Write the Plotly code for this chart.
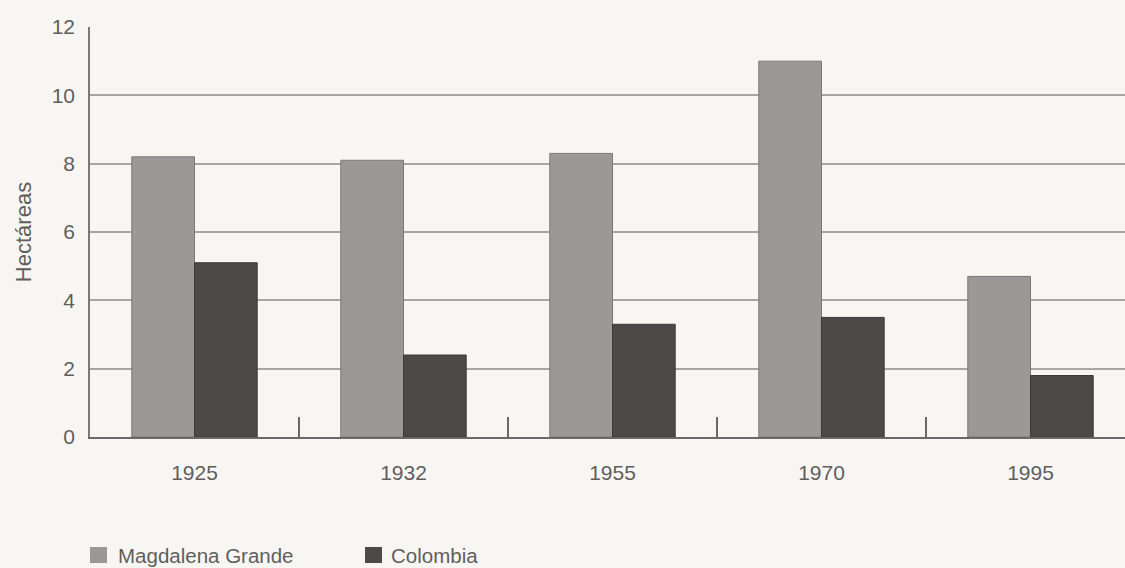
import plotly.graph_objects as go

years = ["1925", "1932", "1955", "1970", "1995"]
magdalena = [8.2, 8.1, 8.3, 11.0, 4.7]
colombia = [5.1, 2.4, 3.3, 3.5, 1.8]
series_names = ["Magdalena Grande", "Colombia"]
y_ticks = [0, 2, 4, 6, 8, 10, 12]
y_title = "Hectáreas"

light = "#9b9998"
dark = "#4c4949"
text_col = "#605e5d"
font_family = "Liberation Sans, Arial, sans-serif"

fig = go.Figure()
fig.add_trace(go.Bar(x=years, y=magdalena, name=series_names[0],
                     marker=dict(color=light, line=dict(color="#7a7877", width=1)),
                     showlegend=False))
fig.add_trace(go.Bar(x=years, y=colombia, name=series_names[1],
                     marker=dict(color=dark, line=dict(color="#3d3a3a", width=1)),
                     showlegend=False))

W, H = 1125, 568
ml, mr, mt, mb = 90, 0, 27, 131
pw = W - ml - mr
ph = H - mt - mb

def px_x(x):
    return (x - ml) / pw

def px_y(y):
    return (H - mb - y) / ph

# manual legend (swatches + labels)
legend_items = [(series_names[0], light, 90, 116), (series_names[1], dark, 365, 389)]
for name, col, sx, tx in legend_items:
    fig.add_shape(type="rect", xref="paper", yref="paper",
                  x0=px_x(sx), x1=px_x(sx + 17), y0=px_y(563), y1=px_y(547),
                  fillcolor=col, line=dict(color=col, width=0))
    fig.add_annotation(xref="paper", yref="paper", x=px_x(tx), y=px_y(555),
                       text=name, showarrow=False, xanchor="left", yanchor="middle",
                       font=dict(size=20.5, color=text_col, family=font_family))

spacing = 209
fig.update_layout(
    width=W, height=H,
    margin=dict(l=ml, r=mr, t=mt, b=mb, pad=0),
    paper_bgcolor="#f8f6f3",
    plot_bgcolor="#f8f6f3",
    barmode="group",
    bargap=0.40,
    bargroupgap=0,
    font=dict(family=font_family, size=21, color=text_col),
    xaxis=dict(
        range=[-0.5, pw / spacing - 0.5],
        showline=True, linecolor="#6a6868", linewidth=1.5,
        ticks="inside", ticklen=20, tickwidth=1.5, tickcolor="#6a6868",
        tickson="boundaries",
        showgrid=False,
        ticklabelstandoff=16,
        tickfont=dict(size=21, color=text_col),
    ),
    yaxis=dict(
        range=[0, 12],
        tickvals=y_ticks,
        showline=True, linecolor="#7a7878", linewidth=1.5,
        showgrid=True, gridcolor="#a8a6a5", gridwidth=1.5,
        zeroline=False,
        ticks="",
        ticklabelstandoff=9,
        tickfont=dict(size=21, color=text_col),
        title=dict(text=y_title, font=dict(size=22, color=text_col), standoff=14),
    ),
)

fig.write_html("out.html")
